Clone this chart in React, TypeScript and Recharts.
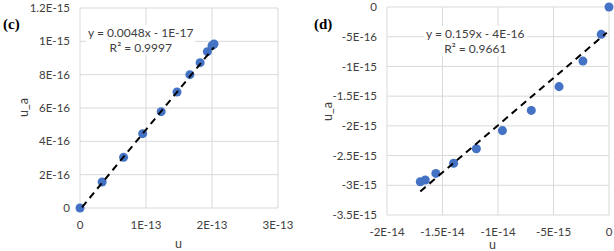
import React from "react";
import { ScatterChart, Scatter, XAxis, YAxis, CartesianGrid, ZAxis } from "recharts";

// panel (c)
const cX = [0, 3.35e-14, 6.6e-14, 9.5e-14, 1.23e-13, 1.47e-13, 1.665e-13, 1.82e-13, 1.93e-13, 2.0e-13, 2.03e-13];
const cY = [0, 1.56e-16, 3.04e-16, 4.46e-16, 5.78e-16, 6.96e-16, 8.0e-16, 8.72e-16, 9.38e-16, 9.74e-16, 9.84e-16];
const cXTicks = [0, 1e-13, 2e-13, 3e-13];
const cXLabels = ["0", "1E-13", "2E-13", "3E-13"];
const cYTicks = [0, 2e-16, 4e-16, 6e-16, 8e-16, 1e-15, 1.2e-15];
const cYLabels = ["0", "2E-16", "4E-16", "6E-16", "8E-16", "1E-15", "1.2E-15"];
const cFit = { slope: 0.0048, intercept: -1e-17, from: 3e-15, to: 2.03e-13 };

// panel (d)
const dX = [0, -0.7e-15, -2.35e-15, -4.5e-15, -7.0e-15, -9.6e-15, -11.95e-15, -14.0e-15, -15.6e-15, -16.55e-15, -17.0e-15];
const dY = [0, -4.6e-16, -9.1e-16, -1.34e-15, -1.74e-15, -2.08e-15, -2.385e-15, -2.63e-15, -2.8e-15, -2.91e-15, -2.94e-15];
const dXTicks = [-2e-14, -1.5e-14, -1e-14, -5e-15, 0];
const dXLabels = ["-2E-14", "-1.5E-14", "-1E-14", "-5E-15", "0"];
const dYTicks = [-3.5e-15, -3e-15, -2.5e-15, -2e-15, -1.5e-15, -1e-15, -5e-16, 0];
const dYLabels = ["-3.5E-15", "-3E-15", "-2.5E-15", "-2E-15", "-1.5E-15", "-1E-15", "-5E-16", "0"];
const dFit = { slope: 0.159, intercept: -4e-16, from: -1.7e-14, to: -0.2e-15 };

const FONT = "Lato, 'Liberation Sans', sans-serif";
const tickStyle = { fill: "#404040", fontSize: 11.5, fontFamily: FONT };

const fmt = (ticks: number[], labels: string[]) => (v: number) => {
  const i = ticks.findIndex((t) => Math.abs(t - v) <= Math.abs(t) * 1e-6 + 1e-40);
  return i >= 0 ? labels[i] : "";
};

type PanelProps = {
  xs: number[];
  ys: number[];
  xTicks: number[];
  xLabels: string[];
  yTicks: number[];
  yLabels: string[];
  fit: { slope: number; intercept: number; from: number; to: number };
  width: number;
  yWidth: number;
  xHeight: number;
  top: number;
  right: number;
};

function Panel(p: PanelProps) {
  const pts = p.xs.map((x, i) => ({ x, y: p.ys[i] }));
  const fitLine = [p.fit.from, p.fit.to].map((x) => ({ x, y: p.fit.slope * x + p.fit.intercept }));
  return (
    <ScatterChart width={p.width} height={251} margin={{ top: p.top, right: p.right, bottom: 0, left: 0 }}>
      <CartesianGrid stroke="#d9d9d9" />
      <XAxis
        type="number"
        dataKey="x"
        domain={[p.xTicks[0], p.xTicks[p.xTicks.length - 1]]}
        ticks={p.xTicks}
        tickFormatter={fmt(p.xTicks, p.xLabels)}
        height={p.xHeight}
        axisLine={false}
        tickLine={false}
        tickMargin={7}
        tick={tickStyle}
        interval={0}
      />
      <YAxis
        type="number"
        dataKey="y"
        domain={[p.yTicks[0], p.yTicks[p.yTicks.length - 1]]}
        ticks={p.yTicks}
        tickFormatter={fmt(p.yTicks, p.yLabels)}
        width={p.yWidth}
        axisLine={false}
        tickLine={false}
        tickMargin={4}
        tick={tickStyle}
        interval={0}
      />
      <ZAxis range={[64, 64]} />
      <Scatter data={pts} fill="#4472C4" isAnimationActive={false} />
      <Scatter
        data={fitLine}
        line={{ stroke: "#000", strokeWidth: 2, strokeDasharray: "7 5" }}
        shape={() => <g />}
        isAnimationActive={false}
      />
    </ScatterChart>
  );
}

const abs = (left: number, top: number, extra: React.CSSProperties = {}): React.CSSProperties => ({
  position: "absolute",
  left,
  top,
  fontFamily: FONT,
  fontSize: 12,
  color: "#404040",
  lineHeight: "15px",
  whiteSpace: "nowrap",
  ...extra,
});

const tag: React.CSSProperties = {
  fontFamily: "'Liberation Serif', 'Times New Roman', serif",
  fontWeight: "bold",
  fontSize: 15,
  color: "#000",
};

export default function App() {
  return (
    <div style={{ position: "absolute", left: 0, top: 0, width: 614, height: 251, background: "#fff", overflow: "hidden" }}>
      <div style={{ position: "absolute", left: 0, top: 0 }}>
        <Panel xs={cX} ys={cY} xTicks={cXTicks} xLabels={cXLabels} yTicks={cYTicks} yLabels={cYLabels}
          fit={cFit} width={300} yWidth={80} xHeight={43} top={8} right={22} />
      </div>
      <div style={{ position: "absolute", left: 304, top: 0 }}>
        <Panel xs={dX} ys={dY} xTicks={dXTicks} xLabels={dXLabels} yTicks={dYTicks} yLabels={dYLabels}
          fit={dFit} width={310} yWidth={83} xHeight={36} top={7} right={5} />
      </div>

      <div style={abs(3, 17, tag)}>(c)</div>
      <div style={abs(314, 17, tag)}>(d)</div>

      <div style={abs(86, 25, { background: "#fff", textAlign: "center", padding: "0 2px" })}>
        y = 0.0048x - 1E-17<br />R² = 0.9997
      </div>
      <div style={abs(424, 26, { background: "#fff", textAlign: "center", padding: "0 2px" })}>
        y = 0.159x - 4E-16<br />R² = 0.9661
      </div>

      <div style={abs(14, 100, { transform: "rotate(-90deg)", fontSize: 12.5 })}>u_a</div>
      <div style={abs(318, 104, { transform: "rotate(-90deg)", fontSize: 12.5 })}>u_a</div>
      <div style={abs(175, 238, { fontSize: 12.5, lineHeight: "11px" })}>u</div>
      <div style={abs(489, 240, { fontSize: 12.5, lineHeight: "10px" })}>u</div>
    </div>
  );
}
